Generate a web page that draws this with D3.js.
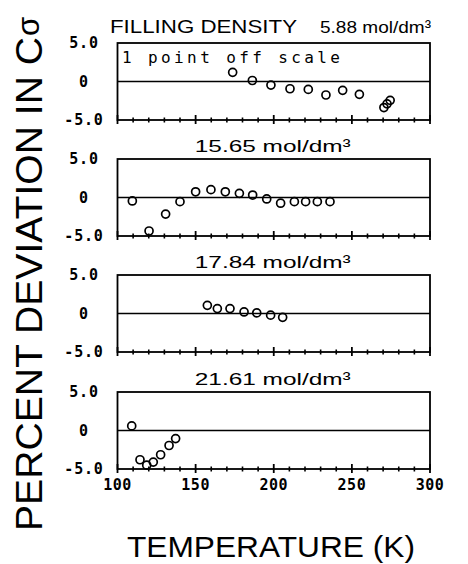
<!DOCTYPE html>
<html>
<head>
<meta charset="utf-8">
<script src="https://cdn.jsdelivr.net/npm/d3@7"></script>
<style>
html,body{margin:0;padding:0;background:#fff;}
svg{display:block;}
</style>
</head>
<body>
<svg id="chart" width="468" height="564"></svg>
<script>
// ---- data ----
const densityLabels = ["5.88 mol/dm³", "15.65 mol/dm³", "17.84 mol/dm³", "21.61 mol/dm³"];

const temps1 = [173.7, 186.3, 198.2, 210.4, 222.1, 233.4, 244.1, 254.8, 270.5, 272.5, 274.5];
const dev1   = [1.19, 0.13, -0.47, -0.94, -1.03, -1.75, -1.15, -1.67, -3.38, -2.9, -2.45];

const temps2 = [109.5, 120.2, 130.8, 140.0, 150.0, 159.8, 169.0, 178.0, 186.5, 195.5, 204.4, 213.2, 220.4, 227.9, 236.0];
const dev2   = [-0.45, -4.35, -2.15, -0.54, 0.74, 1.02, 0.74, 0.54, 0.32, -0.19, -0.74, -0.54, -0.54, -0.54, -0.54];

const temps3 = [157.5, 163.9, 172.0, 181.0, 189.1, 198.0, 205.7];
const dev3   = [1.06, 0.64, 0.64, 0.2, 0.08, -0.22, -0.5];

const temps4 = [109.1, 114.4, 118.7, 122.9, 127.6, 133.0, 137.2];
const dev4   = [0.6, -3.8, -4.5, -4.1, -3.15, -1.95, -1.05];

const xMajorTicks = [100, 150, 200, 250, 300];
const xMinorTicks = d3.range(110, 300, 10).filter(v => v % 50 !== 0);
const yTicks = [5, 0, -5];
const yTickLabels = ["5.0", "0", "-5.0"];
const offScaleNote = "1 point off scale";

const panels = [
  {t: temps1, d: dev1},
  {t: temps2, d: dev2},
  {t: temps3, d: dev3},
  {t: temps4, d: dev4}
];

// ---- layout ----
const svg = d3.select("#chart");
const left = 117.5, right = 430;
const tops = [43, 159, 275, 392];
const ph = 77;

const x = d3.scaleLinear().domain([100, 300]).range([left, right]);

const sansFont = "'Liberation Sans', Arial, sans-serif";
const monoFont = "'DejaVu Sans Mono', monospace";

panels.forEach((p, i) => {
  const top = tops[i];
  const y = d3.scaleLinear().domain([-5, 5]).range([top + ph, top]);
  const g = svg.append("g");

  // frame
  g.append("rect")
    .attr("x", left).attr("y", top)
    .attr("width", right - left).attr("height", ph)
    .attr("fill", "none").attr("stroke", "#000").attr("stroke-width", 1.8);

  // zero line
  g.append("line")
    .attr("x1", left).attr("x2", right)
    .attr("y1", y(0)).attr("y2", y(0))
    .attr("stroke", "#000").attr("stroke-width", 1.6);

  // bottom ticks (crossing the axis)
  g.selectAll("line.minor").data(xMinorTicks).enter().append("line")
    .attr("class", "minor")
    .attr("x1", d => x(d)).attr("x2", d => x(d))
    .attr("y1", y(-5) - 2.5).attr("y2", y(-5) + 2.5)
    .attr("stroke", "#000").attr("stroke-width", 1.6);
  g.selectAll("line.major").data(xMajorTicks).enter().append("line")
    .attr("class", "major")
    .attr("x1", d => x(d)).attr("x2", d => x(d))
    .attr("y1", y(-5) - 5).attr("y2", y(-5) + 4)
    .attr("stroke", "#000").attr("stroke-width", 1.8);

  // y tick labels
  g.selectAll("text.ytick").data(yTicks).enter().append("text")
    .attr("class", "ytick")
    .attr("x", 84).attr("y", d => y(d))
    .attr("dy", "0.36em")
    .attr("text-anchor", "middle")
    .attr("font-family", monoFont).attr("font-weight", "bold")
    .attr("font-size", 15).attr("letter-spacing", 0.8)
    .text((d, k) => yTickLabels[k]);

  // points
  g.selectAll("circle").data(p.t.map((t, k) => [t, p.d[k]])).enter().append("circle")
    .attr("cx", d => x(d[0])).attr("cy", d => y(d[1]))
    .attr("r", 4)
    .attr("fill", "none").attr("stroke", "#000").attr("stroke-width", 1.7);

  // density label
  if (i === 0) {
    svg.append("text")
      .attr("x", 110).attr("y", 33)
      .attr("font-family", sansFont).attr("font-size", 19)
      .attr("textLength", 187).attr("lengthAdjust", "spacingAndGlyphs")
      .text("FILLING DENSITY");
    svg.append("text")
      .attr("x", 320).attr("y", 33)
      .attr("font-family", sansFont).attr("font-size", 17)
      .attr("textLength", 111).attr("lengthAdjust", "spacingAndGlyphs")
      .text(densityLabels[0]);
    svg.append("text")
      .attr("x", 122).attr("y", 63)
      .attr("font-family", monoFont).attr("font-size", 16)
      .attr("textLength", 218).attr("lengthAdjust", "spacing")
      .text(offScaleNote);
  } else {
    svg.append("text")
      .attr("x", (left + right) / 2 - 1).attr("y", top - 7)
      .attr("text-anchor", "middle")
      .attr("font-family", sansFont).attr("font-size", 17)
      .attr("textLength", 156).attr("lengthAdjust", "spacingAndGlyphs")
      .text(densityLabels[i]);
  }

  // x tick labels on bottom panel
  if (i === panels.length - 1) {
    g.selectAll("text.xtick").data(xMajorTicks).enter().append("text")
      .attr("class", "xtick")
      .attr("x", d => x(d)).attr("y", 490)
      .attr("text-anchor", "middle")
      .attr("font-family", monoFont).attr("font-weight", "bold")
      .attr("font-size", 15).attr("letter-spacing", 0.5)
      .text(d => d);
  }
});

// y axis title (rotated)
const yt = svg.append("text")
  .attr("transform", "translate(42,531) rotate(-90)")
  .attr("font-family", sansFont).attr("font-size", 37);
yt.append("tspan").attr("textLength", 494).attr("lengthAdjust", "spacingAndGlyphs")
  .text("PERCENT DEVIATION IN C");
yt.append("tspan").attr("font-size", 31).attr("dy", -3).attr("dx", 1).text("σ");

// x axis title
svg.append("text")
  .attr("x", 271).attr("y", 557)
  .attr("text-anchor", "middle")
  .attr("font-family", sansFont).attr("font-size", 30)
  .attr("textLength", 288).attr("lengthAdjust", "spacingAndGlyphs")
  .text("TEMPERATURE (K)");
</script>
</body>
</html>
